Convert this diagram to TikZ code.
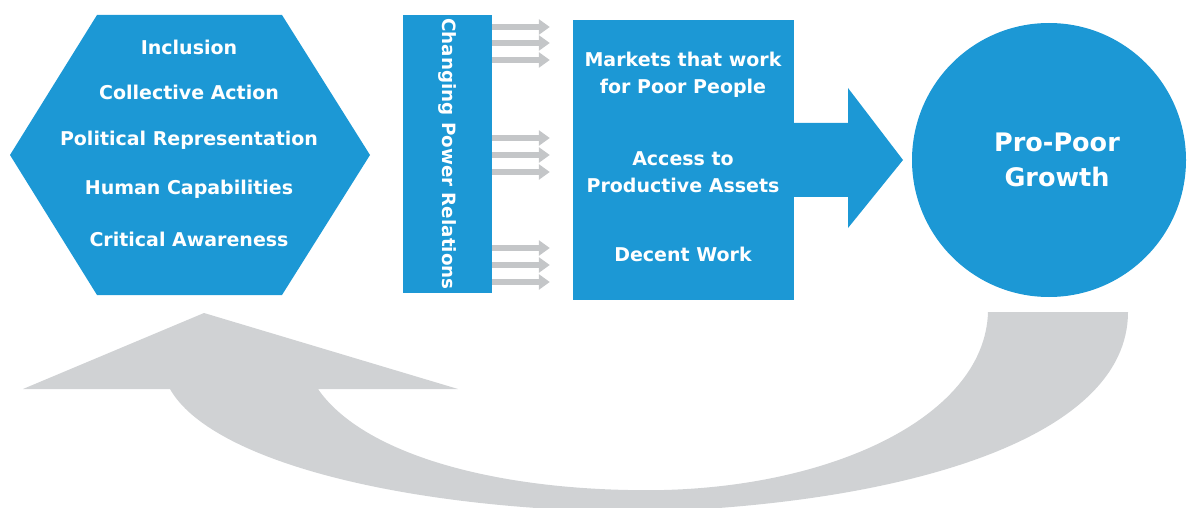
\documentclass[tikz,border=0pt]{standalone}
\usepackage{fontspec}
\setmainfont{DejaVu Sans}
\usetikzlibrary{arrows.meta}
\definecolor{pblue}{RGB}{28,152,213}
\definecolor{pgray}{RGB}{208,210,212}
\definecolor{agray}{RGB}{196,198,200}
\tikzset{
  lbl/.style={text=white,font=\bfseries\fontsize{19}{22}\selectfont,inner sep=0pt,align=center},
  blk/.style={fill=pblue,draw=none,inner sep=0pt},
  thin arrow/.style={draw=agray,line width=6.5pt,-{Triangle[width=15pt,length=11pt]},shorten >=23pt},
}
\begin{document}
\begin{tikzpicture}[x=1pt,y=-1pt]
\useasboundingbox (0,0) rectangle (1187,508);
% feedback arrow
\fill[pgray] (1128,312) -- (988,312)
  .. controls (985,420) and (820,495) .. (628,490)
  .. controls (480,487) and (360,450) .. (318,389)
  -- (458,389) -- (204,313) -- (23,389) -- (170,389)
  .. controls (210,460) and (400,510) .. (640,512)
  .. controls (900,505) and (1128,440) .. (1128,312) -- cycle;
% hexagon
\fill[pblue] (10,155) -- (97,15) -- (282,15) -- (370,155) -- (282,295) -- (97,295) -- cycle;
\node[lbl] (h1) at (189,47) {Inclusion};
\node[lbl] (h2) at (189,92) {Collective Action};
\node[lbl] (h3) at (189,140) {Political Representation};
\node[lbl] (h4) at (189,189) {Human Capabilities};
\node[lbl] (h5) at (189,239) {Critical Awareness};
% bar
\node[blk,minimum width=89pt,minimum height=278pt] (bar) at (447.5,154) {};
\node[lbl,rotate=-90,font=\bfseries\fontsize{18.3}{21}\selectfont] (bart) at (bar.center) {Changing Power Relations};
% box
\node[blk,minimum width=221pt,minimum height=280pt] (box) at (683.5,160) {};
\node[lbl] (b1) at (683,75) {Markets that work\\[5pt]for Poor People};
\node[lbl] (b2) at (683,172) {Access to\\[5pt]Productive Assets};
\node[lbl] (b3) at (683,254) {Decent Work};
% small arrows
\foreach \yy in {27,43,60,138,155,172,248,265,282}{
  \draw[thin arrow] (bar.east |- {(0,\yy)}) -- (box.west |- {(0,\yy)});
}
% big arrow
\fill[pblue] (box.east |- {(0,123)}) -- (848,123) -- (848,88) -- (903,160) -- (848,228) -- (848,197) -- (box.east |- {(0,197)}) -- cycle;
% circle
\node[blk,circle,minimum size=274pt] (growth) at (1049,160) {};
\node[lbl,font=\bfseries\fontsize{25.5}{29}\selectfont] (gt) at (1057,160) {Pro-Poor\\[6pt]Growth};
\end{tikzpicture}
\end{document}
